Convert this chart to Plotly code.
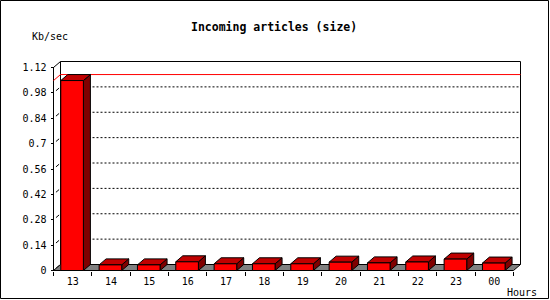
import plotly.graph_objects as go

# ---- data ----
hours = ["13", "14", "15", "16", "17", "18", "19", "20", "21", "22", "23", "00"]
kb_per_sec = [1.048, 0.031, 0.031, 0.048, 0.037, 0.037, 0.037, 0.046, 0.042, 0.047, 0.063, 0.041]
y_ticks = [0, 0.14, 0.28, 0.42, 0.56, 0.7, 0.84, 0.98, 1.12]
y_tick_labels = ["0", "0.14", "0.28", "0.42", "0.56", "0.7", "0.84", "0.98", "1.12"]
title_text = "Incoming articles (size)"
y_title = "Kb/sec"
x_title = "Hours"

# ---- layout geometry ----
W, H = 550, 300
X0PX = 53.5        # pixel of x = 0 (front plane)
CATPX = 38.3333    # pixels per category
Y0PX = 270.5       # pixel row of value 0 (front plane)
UNITPX = 181.25    # pixels per unit value
DX = 7.0 / CATPX   # 3D depth offset in x data units
DY = 6.0 / UNITPX  # 3D depth offset in y data units
YMAX = y_ticks[-1]
BAR_L, BAR_R = 0.19, 0.78
n = len(hours)

xr = [-X0PX / CATPX, (W - X0PX) / CATPX]
yr = [-(H - Y0PX) / UNITPX, Y0PX / UNITPX]

MONO = "DejaVu Sans Mono"


def polys(list_of_pts):
    xs, ys = [], []
    for pts in list_of_pts:
        for (a, b) in pts + [pts[0]]:
            xs.append(a)
            ys.append(b)
        xs.append(None)
        ys.append(None)
    return xs, ys


def segs(list_of_lines):
    xs, ys = [], []
    for pts in list_of_lines:
        for (a, b) in pts:
            xs.append(a)
            ys.append(b)
        xs.append(None)
        ys.append(None)
    return xs, ys


fig = go.Figure()

# frame lines
fx, fy = segs([
    [(DX, DY), (DX, YMAX + DY), (n + DX, YMAX + DY), (n + DX, DY)],
    [(0, 0), (0, YMAX), (DX, YMAX + DY)],
])
fig.add_trace(go.Scatter(x=fx, y=fy, mode="lines", line=dict(color="black", width=1),
                         hoverinfo="skip"))

# dotted gridlines on back plane
gx, gy = segs([[(DX, t + DY), (n + DX, t + DY)] for t in y_ticks[1:-1]])
fig.add_trace(go.Scatter(x=gx, y=gy, mode="lines",
                         line=dict(color="black", width=1, dash="2px,2px"), hoverinfo="skip"))

# small diagonal ticks on the left wall
tx, ty = segs([[(0.35 * DX, t + 0.35 * DY), (0.8 * DX, t + 0.8 * DY)] for t in y_ticks[:-1]])
fig.add_trace(go.Scatter(x=tx, y=ty, mode="lines", line=dict(color="black", width=1),
                         hoverinfo="skip"))

# red max line
m = max(kb_per_sec)
rx, ry = segs([[(0, m), (DX, m + DY), (n + DX, m + DY)]])
fig.add_trace(go.Scatter(x=rx, y=ry, mode="lines", line=dict(color="#ff0000", width=1),
                         hoverinfo="skip"))

# floor
flx, fly = polys([[(0, 0), (n, 0), (n + DX, DY), (DX, DY)]])
fig.add_trace(go.Scatter(x=flx, y=fly, mode="lines", fill="toself", fillcolor="#808080",
                         line=dict(color="black", width=1), hoverinfo="skip"))

# bars
sides, tops, fronts = [], [], []
for i, v in enumerate(kb_per_sec):
    xl, xrr = i + BAR_L, i + BAR_R
    sides.append([(xrr, 0), (xrr + DX, DY), (xrr + DX, v + DY), (xrr, v)])
    tops.append([(xl, v), (xrr, v), (xrr + DX, v + DY), (xl + DX, v + DY)])
    fronts.append([(xl, 0), (xrr, 0), (xrr, v), (xl, v)])

for pl, col in [(sides, "#800000"), (tops, "#c00000"), (fronts, "#ff0000")]:
    px_, py_ = polys(pl)
    fig.add_trace(go.Scatter(x=px_, y=py_, mode="lines", fill="toself", fillcolor=col,
                             line=dict(color="black", width=1), hoverinfo="skip"))

fig.update_layout(
    width=W, height=H, margin=dict(l=0, r=0, t=0, b=0),
    paper_bgcolor="white", plot_bgcolor="white", showlegend=False,
    xaxis=dict(range=xr, domain=[0, 1], anchor="free", position=(H - Y0PX) / H,
               tickmode="array", tickvals=[i + 0.5 for i in range(n)], ticktext=hours,
               ticks="", showline=False, showgrid=False, zeroline=False,
               ticklabelstandoff=3,
               tickfont=dict(family=MONO, size=10, color="black"),
               minor=dict(tickmode="array", tickvals=list(range(n + 1)), ticks="outside",
                          ticklen=4, tickcolor="black", tickwidth=1, showgrid=False)),
    yaxis=dict(range=yr, domain=[0, 1], anchor="free", position=X0PX / W,
               tickmode="array", tickvals=y_ticks, ticktext=y_tick_labels,
               ticks="outside", ticklen=3, tickcolor="black", tickwidth=1,
               showline=False, showgrid=False, zeroline=False,
               ticklabelstandoff=2,
               tickfont=dict(family=MONO, size=10, color="black")),
    annotations=[
        dict(text="<b>" + title_text + "</b>", x=274 / W, y=1 - 27 / H, xref="paper", yref="paper",
             xanchor="center", yanchor="middle", showarrow=False,
             font=dict(family=MONO, size=11.5, color="black")),
        dict(text=y_title, x=30 / W, y=1 - 37 / H, xref="paper", yref="paper",
             xanchor="left", yanchor="middle", showarrow=False,
             font=dict(family=MONO, size=10, color="black")),
        dict(text=x_title, x=505 / W, y=1 - 292 / H, xref="paper", yref="paper",
             xanchor="left", yanchor="middle", showarrow=False,
             font=dict(family=MONO, size=10, color="black")),
    ],
    shapes=[dict(type="rect", xref="paper", yref="paper",
                 x0=0.5 / W, x1=548.5 / W, y0=1 - 298.5 / H, y1=1 - 0.5 / H,
                 line=dict(color="black", width=1))],
)

fig.write_html("out.html")
